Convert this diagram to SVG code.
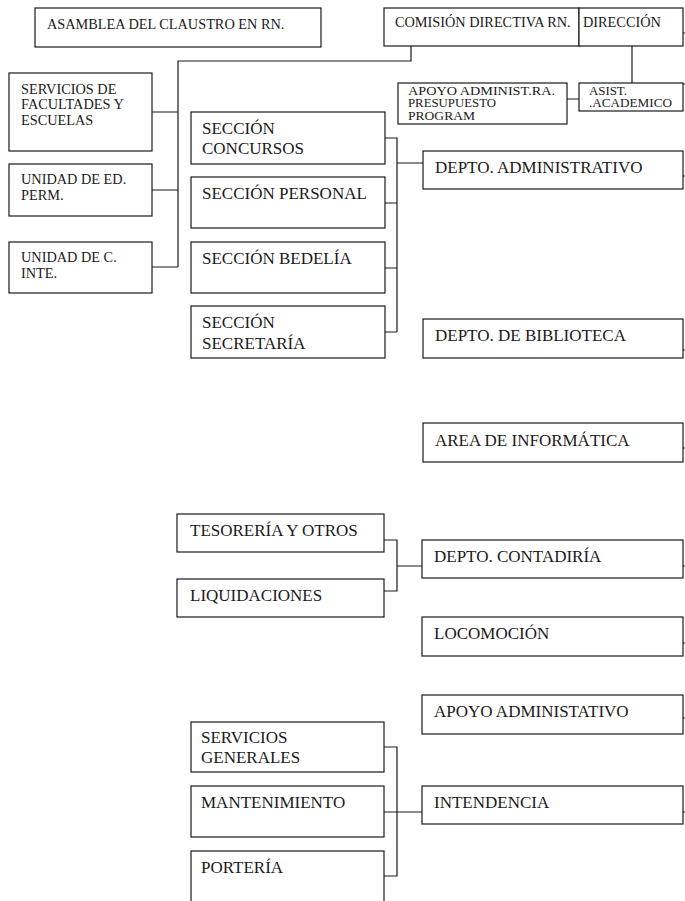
<svg xmlns="http://www.w3.org/2000/svg" width="685" height="901" viewBox="0 0 685 901">
<style>
rect{fill:#fff;stroke:#1a1a1a;stroke-width:1.2}
text{font-family:"Liberation Serif","Times New Roman",serif;fill:#1a1a1a}
.l{font-size:17px}
.m{font-size:14.3px}
.s{font-size:12.5px}
#connectors path{fill:none;stroke:#1a1a1a;stroke-width:1.2}
</style>
<defs><clipPath id="apoyoClip"><rect x="398" y="83" width="170" height="37.5"/></clipPath></defs>
<rect x="0" y="0" width="685" height="901" style="fill:#fff;stroke:none"/>
<g id="connectors">
<path d="M411,46V61H178V267M152,112H178M152,190H178M152,267H178"/>
<path d="M632,46V83M567,99H579"/>
<path d="M385,138H397V332M385,203H397M385,268H397M385,332H397M397,163H423"/>
<path d="M384,540H397V591H384M397,566H422"/>
<path d="M384,747H397V876H384M384,812H422"/>
<path d="M683,33H685M683,84H685M683,176H685M683,350H685M683,448H685M683,566H685M683,643H685M683,718H685M683,812H685"/>
</g>
<g id="asamblea"><rect x="35" y="8" width="286" height="39"/><text class="m" x="47" y="29">ASAMBLEA DEL CLAUSTRO EN RN.</text></g>
<g id="comision"><rect x="384" y="8" width="195" height="38"/><text class="m" x="395" y="27">COMISIÓN DIRECTIVA RN.</text></g>
<g id="direccion"><rect x="579" y="8" width="104" height="38"/><text class="m" x="583" y="27">DIRECCIÓN</text></g>
<g id="apoyo-adminra"><rect x="398" y="83" width="169" height="41"/><g clip-path="url(#apoyoClip)"><text class="s" x="408" y="95" textLength="147" lengthAdjust="spacingAndGlyphs">APOYO  ADMINIST.RA.</text><text class="s" x="408" y="106.5" textLength="88" lengthAdjust="spacingAndGlyphs">PRESUPUESTO</text><text class="s" x="408" y="119.5" textLength="67" lengthAdjust="spacingAndGlyphs">PROGRAM</text></g></g>
<g id="asist"><rect x="579" y="83" width="104" height="28"/><text class="s" x="589" y="95" textLength="38" lengthAdjust="spacingAndGlyphs">ASIST.</text><text class="s" x="589" y="106.5" textLength="83" lengthAdjust="spacingAndGlyphs">.ACADEMICO</text></g>
<g id="servicios-facultades"><rect x="9" y="73" width="143" height="78"/><text class="m" x="21" y="93.5">SERVICIOS  DE</text><text class="m" x="21" y="109">FACULTADES Y</text><text class="m" x="21" y="124.5">ESCUELAS</text></g>
<g id="unidad-ed"><rect x="9" y="164" width="143" height="52"/><text class="m" x="21" y="184">UNIDAD DE ED.</text><text class="m" x="21" y="200">PERM.</text></g>
<g id="unidad-c"><rect x="9" y="242" width="143" height="51"/><text class="m" x="21" y="262">UNIDAD DE C.</text><text class="m" x="21" y="278">INTE.</text></g>
<g id="sec-concursos"><rect x="191" y="112" width="194" height="52"/><text class="l" x="202" y="134">SECCIÓN</text><text class="l" x="202" y="154">CONCURSOS</text></g>
<g id="sec-personal"><rect x="191" y="177" width="194" height="51"/><text class="l" x="202" y="199">SECCIÓN PERSONAL</text></g>
<g id="sec-bedelia"><rect x="191" y="242" width="194" height="51"/><text class="l" x="202" y="264">SECCIÓN BEDELÍA</text></g>
<g id="sec-secretaria"><rect x="191" y="306" width="194" height="52"/><text class="l" x="202" y="328">SECCIÓN</text><text class="l" x="202" y="349">SECRETARÍA</text></g>
<g id="depto-admin"><rect x="423" y="151" width="260" height="38"/><text class="l" x="435" y="173">DEPTO. ADMINISTRATIVO</text></g>
<g id="depto-biblioteca"><rect x="423" y="319" width="260" height="39"/><text class="l" x="435" y="341">DEPTO. DE BIBLIOTECA</text></g>
<g id="area-informatica"><rect x="423" y="423" width="260" height="39"/><text class="l" x="435" y="446">AREA DE INFORMÁTICA</text></g>
<g id="tesoreria"><rect x="177" y="514" width="207" height="38"/><text class="l" x="190" y="536">TESORERÍA Y OTROS</text></g>
<g id="liquidaciones"><rect x="177" y="579" width="207" height="38"/><text class="l" x="190" y="601">LIQUIDACIONES</text></g>
<g id="depto-contaduria"><rect x="422" y="540" width="261" height="38"/><text class="l" x="434" y="562">DEPTO. CONTADIRÍA</text></g>
<g id="locomocion"><rect x="422" y="617" width="261" height="39"/><text class="l" x="434" y="639">LOCOMOCIÓN</text></g>
<g id="apoyo-administativo"><rect x="422" y="695" width="261" height="39"/><text class="l" x="434" y="717">APOYO ADMINISTATIVO</text></g>
<g id="servicios-generales"><rect x="191" y="722" width="193" height="50"/><text class="l" x="201" y="743">SERVICIOS</text><text class="l" x="201" y="763">GENERALES</text></g>
<g id="mantenimiento"><rect x="191" y="786" width="193" height="51"/><text class="l" x="201" y="808">MANTENIMIENTO</text></g>
<g id="intendencia"><rect x="422" y="786" width="261" height="38"/><text class="l" x="434" y="808">INTENDENCIA</text></g>
<g id="porteria"><rect x="191" y="851" width="193" height="60"/><text class="l" x="201" y="873">PORTERÍA</text></g>
</svg>
